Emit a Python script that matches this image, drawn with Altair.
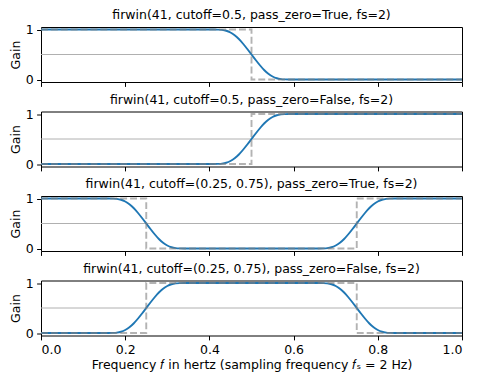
import altair as alt
import pandas as pd

FONT = "DejaVu Sans"
FS = 12.5
BLUE = "#1f77b4"

titles = [
    "firwin(41, cutoff=0.5, pass_zero=True, fs=2)",
    "firwin(41, cutoff=0.5, pass_zero=False, fs=2)",
    "firwin(41, cutoff=(0.25, 0.75), pass_zero=True, fs=2)",
    "firwin(41, cutoff=(0.25, 0.75), pass_zero=False, fs=2)",
]

# single cutoff at 0.5
freq_a = [0.0, 0.1, 0.2, 0.3, 0.4, 0.41, 0.42, 0.43, 0.44, 0.45, 0.46, 0.47,
          0.48, 0.49, 0.5, 0.51, 0.52, 0.53, 0.54, 0.55, 0.56, 0.57, 0.58,
          0.59, 0.6, 0.7, 0.8, 0.9, 1.0]
gain_1 = [1.0, 1.0, 1.0, 1.0, 1.0, 1.0, 0.998, 0.992, 0.975, 0.94, 0.885, 0.81,
          0.715, 0.61, 0.5, 0.39, 0.285, 0.19, 0.115, 0.06, 0.025, 0.008, 0.002,
          0.0, 0.0, 0.0, 0.0, 0.0, 0.0]
gain_2 = [0.0, 0.0, 0.0, 0.0, 0.0, 0.0, 0.002, 0.008, 0.025, 0.06, 0.115, 0.19,
          0.285, 0.39, 0.5, 0.61, 0.715, 0.81, 0.885, 0.94, 0.975, 0.992, 0.998,
          1.0, 1.0, 1.0, 1.0, 1.0, 1.0]

# two cutoffs at 0.25 and 0.75
freq_b = [0.0, 0.1, 0.15, 0.16, 0.17, 0.18, 0.19, 0.2, 0.21, 0.22, 0.23, 0.24,
          0.25, 0.26, 0.27, 0.28, 0.29, 0.3, 0.31, 0.32, 0.33, 0.34, 0.35,
          0.45, 0.55, 0.65, 0.66, 0.67, 0.68, 0.69, 0.7, 0.71, 0.72, 0.73,
          0.74, 0.75, 0.76, 0.77, 0.78, 0.79, 0.8, 0.81, 0.82, 0.83, 0.84,
          0.85, 0.9, 1.0]
gain_3 = [1.0, 1.0, 1.0, 1.0, 0.998, 0.992, 0.975, 0.94, 0.885, 0.81, 0.715, 0.61,
          0.5, 0.39, 0.285, 0.19, 0.115, 0.06, 0.025, 0.008, 0.002, 0.0, 0.0,
          0.0, 0.0, 0.0, 0.0, 0.002, 0.008, 0.025, 0.06, 0.115, 0.19, 0.285,
          0.39, 0.5, 0.61, 0.715, 0.81, 0.885, 0.94, 0.975, 0.992, 0.998, 1.0,
          1.0, 1.0, 1.0]
gain_4 = [0.0, 0.0, 0.0, 0.0, 0.002, 0.008, 0.025, 0.06, 0.115, 0.19, 0.285, 0.39,
          0.5, 0.61, 0.715, 0.81, 0.885, 0.94, 0.975, 0.992, 0.998, 1.0, 1.0,
          1.0, 1.0, 1.0, 1.0, 0.998, 0.992, 0.975, 0.94, 0.885, 0.81, 0.715,
          0.61, 0.5, 0.39, 0.285, 0.19, 0.115, 0.06, 0.025, 0.008, 0.002, 0.0,
          0.0, 0.0, 0.0]

# ideal (dashed) responses
ideal_f_a = [0.0, 0.5, 0.5, 1.0]
ideal_1 = [1, 1, 0, 0]
ideal_2 = [0, 0, 1, 1]
ideal_f_b = [0.0, 0.25, 0.25, 0.75, 0.75, 1.0]
ideal_3 = [1, 1, 0, 0, 1, 1]
ideal_4 = [0, 0, 1, 1, 0, 0]

x_ticks = [0.0, 0.2, 0.4, 0.6, 0.8, 1.0]
y_ticks = [0, 1]
grid_level = 0.5

panels = [
    (freq_a, gain_1, ideal_f_a, ideal_1),
    (freq_a, gain_2, ideal_f_a, ideal_2),
    (freq_b, gain_3, ideal_f_b, ideal_3),
    (freq_b, gain_4, ideal_f_b, ideal_4),
]

xscale = alt.Scale(domain=[0, 1], nice=False, zero=False)
yscale = alt.Scale(domain=[-0.05, 1.05], nice=False, zero=False)

charts = []
for i, (f, g, fi, gi) in enumerate(panels):
    last = i == len(panels) - 1
    xaxis = alt.Axis(
        values=x_ticks, format=".1f", grid=False, domain=False,
        labels=last, tickSize=4.4, tickColor="black", labelPadding=3.5,
        labelFontSize=FS, labelColor="black",
        title="Frequency 𝑓 in hertz (sampling frequency 𝑓ₛ = 2 Hz)" if last else None,
        titleFontSize=FS, titleFontWeight="normal", titlePadding=3, titleColor="black",
    )
    yaxis = alt.Axis(
        values=y_ticks, format="d", grid=False, domain=False, tickSize=4.4,
        tickColor="black", labelPadding=3.5, labelFontSize=FS, labelColor="black",
        title="Gain", titleFontSize=FS, titleFontWeight="normal", titlePadding=3,
        titleColor="black",
    )
    resp = pd.DataFrame({"f": f, "g": g})
    ideal = pd.DataFrame({"f": fi, "g": gi, "o": list(range(len(fi)))})

    grid = alt.Chart(pd.DataFrame({"y": [grid_level]})).mark_rule(
        color="#b0b0b0", strokeWidth=1
    ).encode(y=alt.Y("y:Q", scale=yscale, axis=yaxis))

    line = alt.Chart(resp).mark_line(
        color=BLUE, strokeWidth=1.9, interpolate="monotone"
    ).encode(
        x=alt.X("f:Q", scale=xscale, axis=xaxis),
        y=alt.Y("g:Q", scale=yscale, axis=yaxis),
    )
    dash = alt.Chart(ideal).mark_line(
        color="#808080", opacity=0.6, strokeWidth=1.9, strokeDash=[6.9, 3.0]
    ).encode(
        x=alt.X("f:Q", scale=xscale, axis=xaxis),
        y=alt.Y("g:Q", scale=yscale, axis=yaxis),
        order="o:Q",
    )
    ch = alt.layer(grid, line, dash).properties(
        width=421, height=55,
        title=alt.TitleParams(titles[i], fontSize=FS, fontWeight="normal",
                              font=FONT, color="black", offset=2),
    )
    charts.append(ch)

chart = alt.vconcat(*charts, spacing=4.5).properties(
    padding={"left": 0, "top": 0, "right": 0, "bottom": 0}
).configure(font=FONT).configure_view(
    stroke="black", strokeWidth=1
).configure_axis(labelFont=FONT, titleFont=FONT)

chart.save("out.html", embed_options={"renderer": "svg", "actions": False})
